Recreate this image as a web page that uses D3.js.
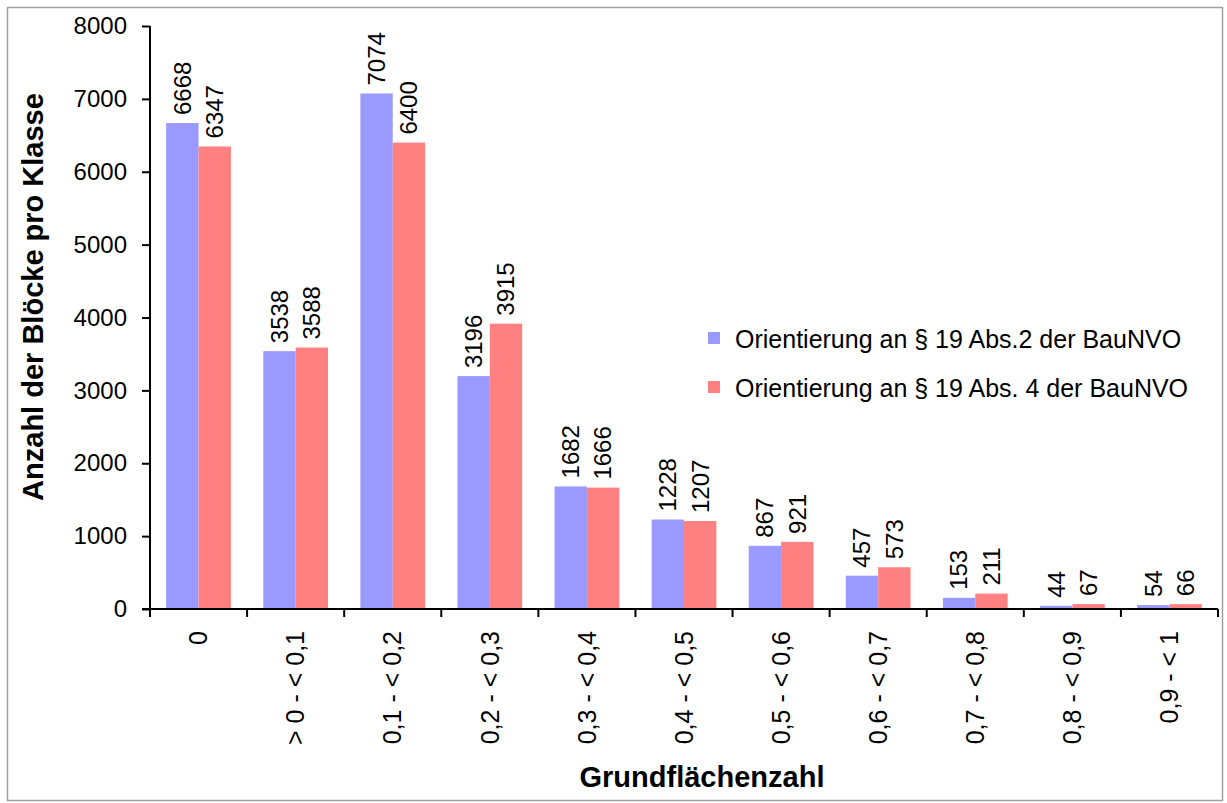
<!DOCTYPE html>
<html>
<head>
<meta charset="utf-8">
<script src="https://cdn.jsdelivr.net/npm/d3@7"></script>
<style>
  body { margin: 0; background: #fff; }
  text { font-family: "Liberation Sans", Arial, sans-serif; fill: #000; }
</style>
</head>
<body>
<div id="chart"></div>
<script>
// Grundflächenzahl classes
var categories = ['0', '> 0 - < 0,1', '0,1 - < 0,2', '0,2 - < 0,3', '0,3 - < 0,4',
  '0,4 - < 0,5', '0,5 - < 0,6', '0,6 - < 0,7', '0,7 - < 0,8', '0,8 - < 0,9', '0,9 - < 1'];
var abs2 = [6668, 3538, 7074, 3196, 1682, 1228, 867, 457, 153, 44, 54];
var abs4 = [6347, 3588, 6400, 3915, 1666, 1207, 921, 573, 211, 67, 66];
var seriesNames = ['Orientierung an § 19 Abs.2 der BauNVO', 'Orientierung an § 19 Abs. 4 der BauNVO'];
var yTicks = [0, 1000, 2000, 3000, 4000, 5000, 6000, 7000, 8000];

var width = 1227, height = 803;
var plotLeft = 150, plotRight = 1218, plotTop = 26, plotBottom = 609;
var colors = ['#9999ff', '#ff8080'];

var svg = d3.select('#chart').append('svg')
  .attr('width', width)
  .attr('height', height);

// chart frame
svg.append('rect')
  .attr('x', 7.5).attr('y', 7.5)
  .attr('width', 1215).attr('height', 793)
  .attr('fill', 'none')
  .attr('stroke', '#a0a0a0')
  .attr('stroke-width', 1.5);

var x = d3.scaleBand().domain(categories).range([plotLeft, plotRight]);
var x1 = d3.scaleBand().domain([0, 1]).range([0, x.bandwidth()]).paddingOuter(0.5);
var y = d3.scaleLinear().domain([0, 8000]).range([plotBottom, plotTop]);

var rows = categories.map(function(c, i) {
  return { cat: c, vals: [abs2[i], abs4[i]] };
});

var groups = svg.selectAll('g.grp')
  .data(rows)
  .enter().append('g')
  .attr('class', 'grp')
  .attr('transform', function(d) { return 'translate(' + x(d.cat) + ',0)'; });

var bars = groups.selectAll('g.bar')
  .data(function(d) { return d.vals.map(function(v, k) { return { k: k, v: v }; }); })
  .enter().append('g');

bars.append('rect')
  .attr('x', function(d) { return x1(d.k); })
  .attr('y', function(d) { return y(d.v); })
  .attr('width', x1.bandwidth())
  .attr('height', function(d) { return plotBottom - y(d.v); })
  .attr('fill', function(d) { return colors[d.k]; });

bars.append('text')
  .attr('transform', function(d) {
    return 'translate(' + (x1(d.k) + x1.bandwidth() / 2) + ',' + (y(d.v) - 8) + ') rotate(-90)';
  })
  .attr('dy', '0.35em')
  .style('font-size', '24px')
  .text(function(d) { return d.v; });

// y axis
var yAxis = svg.append('g')
  .attr('transform', 'translate(' + plotLeft + ',0)')
  .call(d3.axisLeft(y).tickValues(yTicks).tickSize(8).tickPadding(15).tickFormat(d3.format('d')));
yAxis.selectAll('path, line').attr('stroke', '#000').attr('stroke-width', 2);
yAxis.select('path').attr('d', 'M0,' + plotTop + 'V' + plotBottom);
yAxis.selectAll('text').style('font-size', '24px').attr('font-family', null);

// x axis
var xAxis = svg.append('g')
  .attr('transform', 'translate(0,' + plotBottom + ')')
  .call(d3.axisBottom(x).tickSize(0));
xAxis.select('path').attr('stroke', '#000').attr('stroke-width', 2)
  .attr('d', 'M' + (plotLeft - 8) + ',0H' + plotRight);
var catTicks = categories.concat(['end']);
xAxis.selectAll('line.sep')
  .data(catTicks)
  .enter().append('line')
  .attr('class', 'sep')
  .attr('x1', function(d, i) { return plotLeft + i * x.bandwidth(); })
  .attr('x2', function(d, i) { return plotLeft + i * x.bandwidth(); })
  .attr('y1', 0).attr('y2', 8)
  .attr('stroke', '#000').attr('stroke-width', 2);
xAxis.selectAll('.tick text')
  .attr('font-family', null)
  .style('font-size', '25px')
  .attr('text-anchor', 'end')
  .attr('x', 0).attr('y', 0)
  .attr('dy', '0.35em')
  .attr('transform', 'translate(0,22) rotate(-90)');

// axis titles
svg.append('text')
  .attr('transform', 'translate(43,297) rotate(-90)')
  .attr('text-anchor', 'middle')
  .style('font-size', '29px')
  .style('font-weight', 'bold')
  .text('Anzahl der Blöcke pro Klasse');

svg.append('text')
  .attr('x', 702).attr('y', 787)
  .attr('text-anchor', 'middle')
  .style('font-size', '29px')
  .style('font-weight', 'bold')
  .text('Grundflächenzahl');

// legend
var legend = svg.append('g')
  .attr('transform', 'translate(708,332)');
var li = legend.selectAll('g')
  .data(seriesNames)
  .enter().append('g')
  .attr('transform', function(d, i) { return 'translate(0,' + i * 49 + ')'; });
li.append('rect')
  .attr('width', 12).attr('height', 12)
  .attr('fill', function(d, i) { return colors[i]; });
li.append('text')
  .attr('x', 27).attr('y', 16)
  .style('font-size', '25px')
  .text(function(d) { return d; });
</script>
</body>
</html>
